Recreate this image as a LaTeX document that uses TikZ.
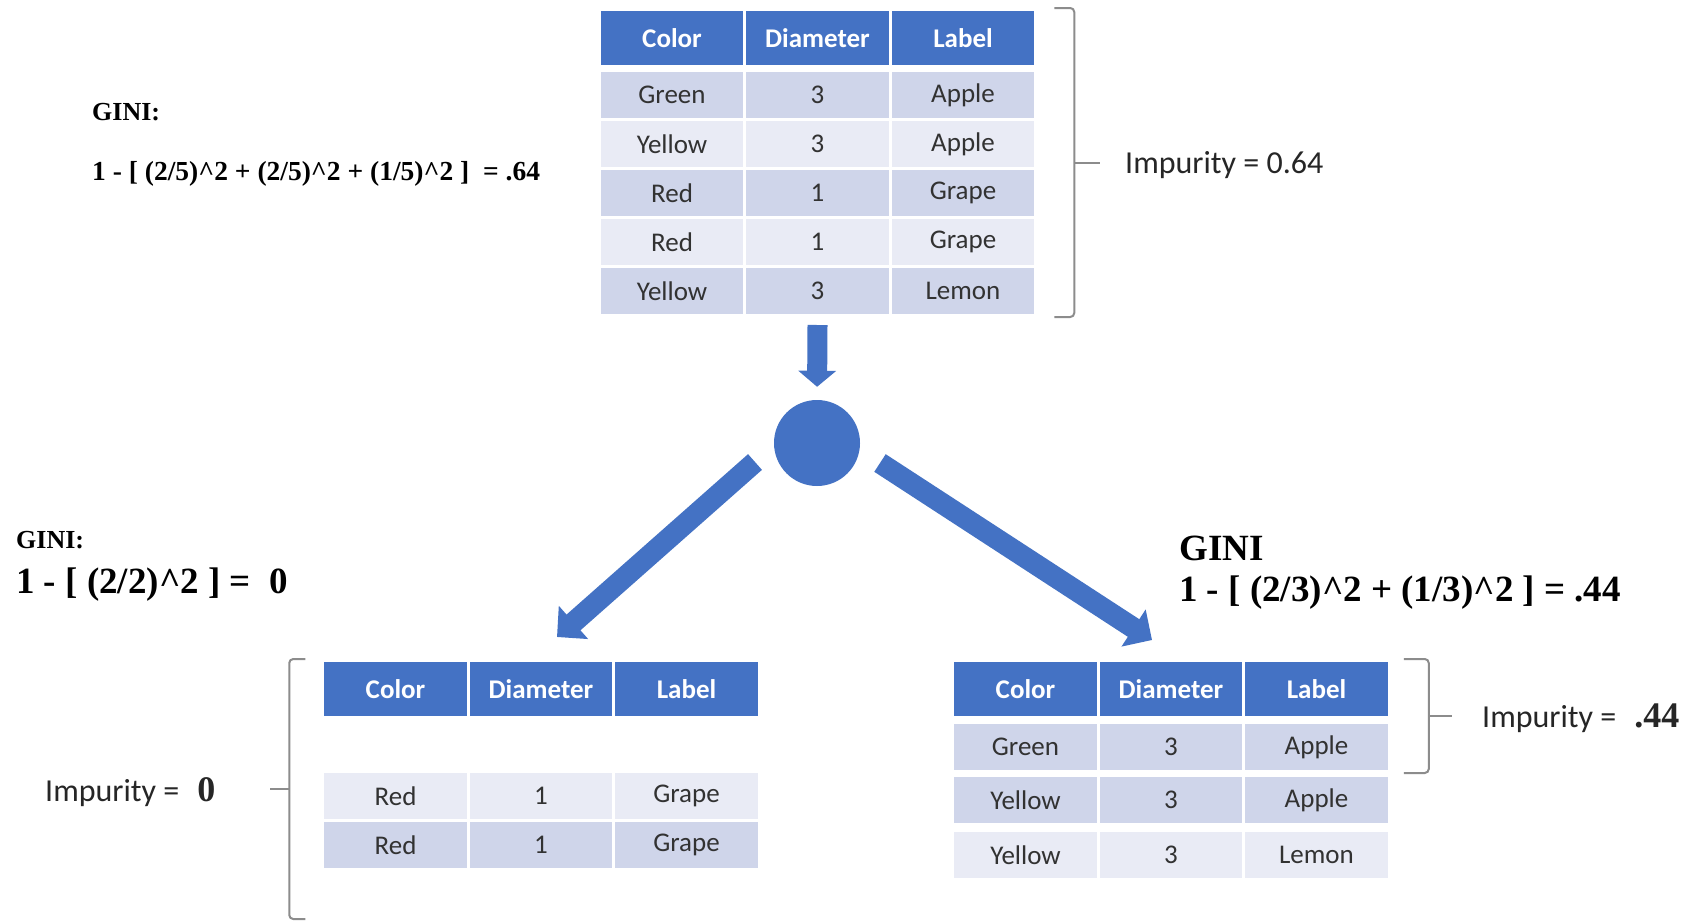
\documentclass[tikz,border=0pt]{standalone}
\usepackage{fontspec}
\setmainfont{Carlito}
\newfontfamily\ginifont{Liberation Serif}
\usepackage{tikz}
\usetikzlibrary{arrows.meta, calc}
\definecolor{hdrblue}{RGB}{68,114,196}
\definecolor{rowdark}{RGB}{207,213,234}
\definecolor{rowlight}{RGB}{233,235,245}
\definecolor{brgray}{RGB}{140,140,140}
\definecolor{celltext}{RGB}{50,50,50}
\newcommand{\tabfont}{\fontsize{27}{32}\selectfont}
\tikzset{
  hcell/.style   = {rectangle, fill=hdrblue, draw=white, line width=3pt,
                    minimum width=145.5pt, minimum height=57pt, inner sep=0pt,
                    font=\tabfont\bfseries, text=white},
  dcell/.style   = {rectangle, draw=white, line width=3pt,
                    minimum width=145.5pt, minimum height=49pt, inner sep=0pt,
                    font=\tabfont, text=celltext},
  bracket/.style = {draw=brgray, line width=2pt, rounded corners=4pt},
  imp/.style     = {anchor=base west, inner sep=0pt,
                    font=\fontsize{32}{36}\selectfont, text=black!85},
}

\begin{document}
\begin{tikzpicture}[
    x=1pt, y=-1pt,
    ginismall/.style={anchor=base west, inner sep=0pt,
                      font=\ginifont\bfseries\fontsize{26}{30}\selectfont},
    ginibig/.style={anchor=base west, inner sep=0pt,
                    font=\ginifont\bfseries\fontsize{37}{42}\selectfont},
    downarrow/.style={line width=20pt, hdrblue, -{Triangle[width=37pt, length=16pt]}},
    bigarrow/.style={line width=21pt, hdrblue, -{Triangle[width=43pt, length=22pt]}}
]
\useasboundingbox (0,0) rectangle (1696,921);
\fill[white] (0,0) rectangle (1696,921);

% root table
\foreach \hd [count=\col] in {Color, Diameter, Label}
  \node[hcell] (top-h-\col) at ({526.5+145.5*\col}, 38) {\hd};
\foreach \yy/\clr/\dia/\lab/\fc [count=\r] in {95/Green/3/Apple/rowdark,
    144/Yellow/3/Apple/rowlight, 193/Red/1/Grape/rowdark,
    242/Red/1/Grape/rowlight, 291/Yellow/3/Lemon/rowdark} {
  \node[dcell, fill=\fc] (top-\r-1) at (672,\yy) {\clr};
  \node[dcell, fill=\fc] (top-\r-2) at (817.5,\yy) {\dia};
  \node[dcell, fill=\fc] (top-\r-3) at (963,\yy) {\lab};
}

% left child
\foreach \hd [count=\col] in {Color, Diameter, Label}
  \node[hcell] (left-h-\col) at ({250+145.5*\col}, 689) {\hd};
\foreach \yy/\clr/\dia/\lab/\fc [count=\r] in {796/Red/1/Grape/rowlight,
    845/Red/1/Grape/rowdark} {
  \node[dcell, fill=\fc] (left-\r-1) at (395.5,\yy) {\clr};
  \node[dcell, fill=\fc] (left-\r-2) at (541,\yy) {\dia};
  \node[dcell, fill=\fc] (left-\r-3) at (686.5,\yy) {\lab};
}

% right child
\foreach \hd [count=\col] in {Color, Diameter, Label}
  \node[hcell] (right-h-\col) at ({880+145.5*\col}, 689) {\hd};
\foreach \yy/\clr/\dia/\lab/\fc [count=\r] in {747/Green/3/Apple/rowdark,
    800/Yellow/3/Apple/rowdark, 855/Yellow/3/Lemon/rowlight} {
  \node[dcell, fill=\fc] (right-\r-1) at (1025.5,\yy) {\clr};
  \node[dcell, fill=\fc] (right-\r-2) at (1171,\yy) {\dia};
  \node[dcell, fill=\fc] (right-\r-3) at (1316.5,\yy) {\lab};
}

% split node and arrows
\node[circle, fill=hdrblue, minimum size=86pt, inner sep=0pt] (split) at (817,443) {};
\draw[downarrow, shorten >=13pt] ([yshift=-8pt]top-5-2.south) -- (split.north);
\coordinate (ltip) at (557,637);
\coordinate (rtip) at (1152,640);
\draw[bigarrow] ($(split)+(-62,19)$) -- (ltip);
\draw[bigarrow] ($(split)+(63,20)$) -- (rtip);

% gini formulas
\node[ginismall] (gini-top) at (92,120) {GINI:};
\node[ginismall, font=\ginifont\bfseries\fontsize{27.5}{32}\selectfont] (form-top) at (92,180)
  {1 - [ (2/5)\textasciicircum2 + (2/5)\textasciicircum2 + (1/5)\textasciicircum2 ]~ = .64};
\node[ginismall] (gini-left) at (16,548) {GINI:};
\node[ginibig] (form-left) at (16,593) {1 - [ (2/2)\textasciicircum2 ] =~ 0};
\node[ginibig] (gini-right) at (1179,560) {GINI};
\node[ginibig] (form-right) at (1179,601)
  {1 - [ (2/3)\textasciicircum2 + (1/3)\textasciicircum2 ] = .44};

% impurity labels
\node[imp] (imp-top) at (1125,173) {Impurity = 0.64};
\node[imp] (imp-left) at (45,801)
  {Impurity =\hspace{18pt}{\ginifont\bfseries\fontsize{36}{40}\selectfont 0}};
\node[imp] (imp-right) at (1482,727)
  {Impurity =\hspace{18pt}{\ginifont\bfseries\fontsize{36}{40}\selectfont .44}};

% braces
\coordinate (ttop) at ([xshift=17pt]top-h-3.north east);
\coordinate (tbot) at ([xshift=17pt]top-5-3.south east);
\coordinate (tmid) at ($(ttop)!0.5!(tbot)+(20,0)$);
\draw[bracket] (ttop) -| (tmid) |- (tbot);
\draw[bracket] (tmid) -- ([xshift=-25pt]imp-top.west |- tmid);

\coordinate (ltop) at ([xshift=-16pt]left-h-1.north west);
\coordinate (lbot) at ([xshift=-16pt, yshift=-48pt]left-2-1.south west);
\coordinate (lmid) at ($(ltop)!0.5!(lbot)+(-16,0)$);
\draw[bracket] (ltop) -| (lmid) |- (lbot);
\draw[bracket] (lmid) -- ([xshift=54pt]imp-left.east |- lmid);

\coordinate (rtop) at ([xshift=13pt]right-h-3.north east);
\coordinate (rbot) at ([xshift=13pt]right-1-3.south east);
\coordinate (rmid) at ($(rtop)!0.5!(rbot)+(25,0)$);
\draw[bracket] (rtop) -| (rmid) |- (rbot);
\draw[bracket] (rmid) -- ([xshift=-30pt]imp-right.west |- rmid);

\end{tikzpicture}
\end{document}
